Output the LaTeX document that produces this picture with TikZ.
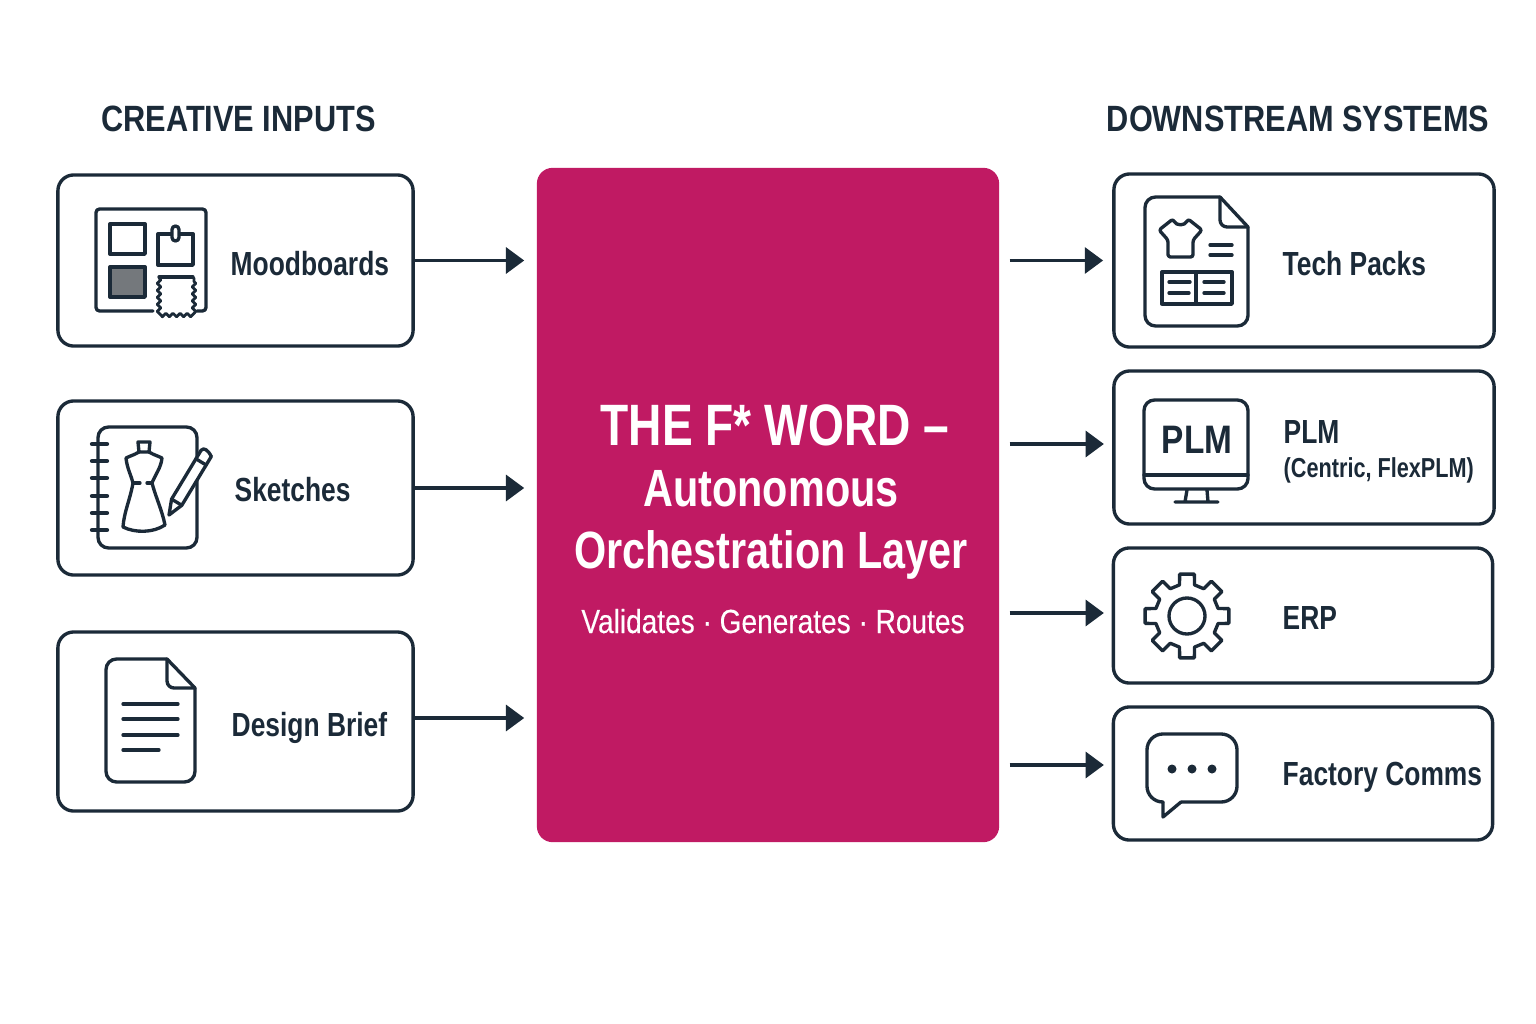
\documentclass[tikz,border=0pt]{standalone}
\usepackage{fontspec}
\setmainfont[FakeStretch=0.84]{Liberation Sans}
\newfontfamily\itemfam[FakeStretch=0.79]{Liberation Sans}
\newfontfamily\subfam[FakeStretch=0.84,FakeBold=0.25]{Liberation Sans}
\usetikzlibrary{arrows.meta,decorations.pathmorphing}
\definecolor{inkdark}{HTML}{1B2A38}
\definecolor{berry}{HTML}{C01A63}
\definecolor{swatchgray}{HTML}{74787C}
\tikzset{
  boxnode/.style={draw=inkdark,line width=0.95pt,rounded corners=4.5pt,fill=white,inner sep=0pt},
  iconline/.style={draw=inkdark,line width=0.95pt,line join=round,line cap=round},
  itemtext/.style={anchor=base west,inner sep=0pt,text=inkdark,font=\itemfam\fontsize{9.5}{11}\selectfont\bfseries},
  headtext/.style={anchor=base,inner sep=0pt,text=inkdark,font=\fontsize{10.4}{12}\selectfont\bfseries},
  flow/.style={draw=inkdark,line width=0.95pt,-{Triangle[length=5.2pt,width=7.4pt]}},
}
\begin{document}
\begin{tikzpicture}[x=0.01cm,y=-0.01cm]
\useasboundingbox (0,0) rectangle (1536,1024);

\node[headtext] (inhead) at (238.5,131) {CREATIVE INPUTS};
\node[headtext] (outhead) at (1298,131) {DOWNSTREAM SYSTEMS};

\node[fill=berry,rounded corners=4.5pt,minimum width=4.62cm,minimum height=6.74cm,inner sep=0pt] (orch) at (768,505) {};
\node[inner sep=0pt,align=center,text=white,font=\itemfam\fontsize{14.9}{17.4}\selectfont\bfseries,anchor=base] (title) at (771,568)
{\hspace*{2.2pt}\fontsize{16.6}{17.4}\selectfont THE F* WORD –\\\fontsize{14.9}{17.4}\selectfont Autonomous\\Orchestration Layer};
\node[inner sep=0pt,text=white,font=\subfam\fontsize{9.5}{12}\selectfont,anchor=base] (subtitle) at (773,633)
{Validates · Generates · Routes};

% left column
\node[boxnode,minimum width=3.55cm,minimum height=1.71cm] (mood) at (235.5,260.5) {};
\node[boxnode,minimum width=3.55cm,minimum height=1.74cm] (sketch) at (235.5,488) {};
\node[boxnode,minimum width=3.55cm,minimum height=1.79cm] (brief) at (235.5,721.5) {};
\node[itemtext] (moodtxt) at (230,275) {Moodboards};
\node[itemtext] (sketchtxt) at (234,501) {Sketches};
\node[itemtext] (brieftxt) at (231,736) {Design Brief};

% right column
\node[boxnode,minimum width=3.80cm,minimum height=1.73cm] (tech) at (1304,260.5) {};
\node[boxnode,minimum width=3.80cm,minimum height=1.53cm] (plm) at (1304,447.5) {};
\node[boxnode,minimum width=3.79cm,minimum height=1.35cm] (erp) at (1303,615.5) {};
\node[boxnode,minimum width=3.79cm,minimum height=1.33cm] (comms) at (1303,773.5) {};
\node[itemtext] (techtxt) at (1282,275) {Tech Packs};
\node[itemtext] (plmtxt) at (1283,443) {PLM};
\node[itemtext,font=\itemfam\fontsize{7.8}{10}\selectfont\bfseries] (plmsub) at (1283,477) {(Centric, FlexPLM)};
\node[itemtext] (erptxt) at (1282,629) {ERP};
\node[itemtext] (commstxt) at (1282,785) {Factory Comms};

% arrows
\coordinate (plmin) at (1113,444);
\coordinate (erpin) at (1113,613);
\coordinate (commsin) at (1113,765);
\coordinate (briefout) at (413,718);
\draw[flow,shorten >=3.4pt] (mood.east) -- (orch.west |- mood.east);
\draw[flow,shorten >=3.4pt] (sketch.east) -- (orch.west |- sketch.east);
\draw[flow,shorten >=3.4pt] (briefout) -- (orch.west |- briefout);
\draw[flow,shorten <=2.8pt,shorten >=2.6pt] (orch.east |- tech.west) -- (tech.west);
\draw[flow,shorten <=2.8pt,shorten >=2.6pt] (orch.east |- plmin) -- (plmin);
\draw[flow,shorten <=2.8pt,shorten >=2.6pt] (orch.east |- erpin) -- (erpin);
\draw[flow,shorten <=2.8pt,shorten >=2.6pt] (orch.east |- commsin) -- (commsin);

% moodboard icon
\draw[iconline,rounded corners=1pt] (153,311) -- (96,311) -- (96,209) -- (206,209) -- (206,311) -- (197,311);
\draw[iconline] (110,224) rectangle (145,254);
\draw[iconline,fill=swatchgray] (110,267) rectangle (145,297);
\draw[iconline] (158,234) rectangle (193,265);
\draw[iconline,fill=white,rounded corners=1pt] (172,226) rectangle (179,241);
\draw[iconline] (159,277) -- (193,277);
\draw[iconline,line width=0.8pt,decorate,decoration={zigzag,segment length=2pt,amplitude=0.5pt}] (159,278) -- (159,315) -- (194,315) -- (194,278);

% sketch icon
\draw[iconline,rounded corners=3pt] (98,427) rectangle (197,548);
\foreach \ringy in {444,461,478,496,513,530}
  \draw[iconline,line width=1.2pt] (92,\ringy) -- (107,\ringy);
\draw[iconline] (138,442) -- (150,442) -- (149,452) -- (139,452) -- cycle;
\draw[iconline] (139,452) .. controls (134,455) and (130,456) .. (126,458)
  .. controls (127,468) and (131,475) .. (133,483) .. controls (130,500) and (124,512) .. (123,527)
  .. controls (135,533) and (153,533) .. (165,525) .. controls (162,510) and (156,498) .. (152,483)
  .. controls (155,475) and (161,468) .. (162,458) .. controls (158,456) and (154,455) .. (149,452);
\draw[iconline] (133,483) -- (140,483) (147,483) -- (152,483);
\draw[iconline,fill=white] (169,515) -- (171.6,499.1) -- (201.1,450.3) .. controls (204,447) and (208,450) .. (211.3,456.5)
  -- (181.8,505.3) -- cycle;
\draw[iconline] (171.6,499.1) -- (181.8,505.3) (195.9,458.8) -- (206.1,465);

% tech pack icon
\draw[iconline,rounded corners=3pt] (1220,197) -- (1145,197) -- (1145,326) -- (1248,326) -- (1248,227);
\draw[iconline] (1220,197) -- (1248,227);
\draw[iconline,rounded corners=2pt] (1220,197) -- (1220,227) -- (1248,227);
\draw[iconline,rounded corners=0.7pt] (1173,219) .. controls (1176,226) and (1185,226) .. (1188,219) -- (1202,230) -- (1193,240) -- (1193,257)
  -- (1168,257) -- (1168,240) -- (1159,230) -- cycle;
\draw[iconline] (1210,245) -- (1232,245) (1210,255) -- (1232,255);
\draw[iconline] (1162,272) rectangle (1232,304) (1196,272) -- (1196,304);
\draw[iconline] (1169,282) -- (1190,282) (1169,293) -- (1189,293) (1204,282) -- (1224,282) (1204,293) -- (1224,293);

% plm icon
\draw[iconline,rounded corners=3pt] (1144,400) rectangle (1248,489);
\draw[iconline] (1144,475) -- (1248,475);
\draw[iconline] (1187,490) -- (1185,502) (1207,490) -- (1208,502) (1175,502) -- (1218,502);
\node[inner sep=0pt,anchor=base,text=inkdark,font=\fontsize{11.3}{12}\selectfont\bfseries] (plmicon) at (1197,453) {PLM};

% erp icon
\begin{scope}[shift={(1187,616)}]
\draw[iconline] (-13.5:32) \foreach \gearang in {0,45,...,315} {
  -- (\gearang-13.5:32) -- (\gearang-10:42.5) -- (\gearang+10:42.5) -- (\gearang+13.5:32)
} -- cycle;
\draw[iconline] (0,0) circle (0.18cm);
\end{scope}

% comms icon
\draw[iconline,rounded corners=4.5pt] (1163,802) -- (1147,802) -- (1147,734) -- (1237,734) -- (1237,802) -- (1181,802);
\draw[iconline] (1163,802) -- (1163,817) -- (1181,802);
\foreach \dotx in {1172,1192,1212}
  \fill[inkdark] (\dotx,769) circle (0.045cm);

% brief icon
\draw[iconline,rounded corners=3pt] (167,659) -- (106,659) -- (106,782) -- (195,782) -- (195,688);
\draw[iconline] (167,659) -- (195,688);
\draw[iconline,rounded corners=2pt] (167,659) -- (167,688) -- (195,688);
\foreach \liney/\lineend in {704/178,719/178,735/178,750/159}
  \draw[iconline] (123,\liney) -- (\lineend,\liney);
\end{tikzpicture}
\end{document}
